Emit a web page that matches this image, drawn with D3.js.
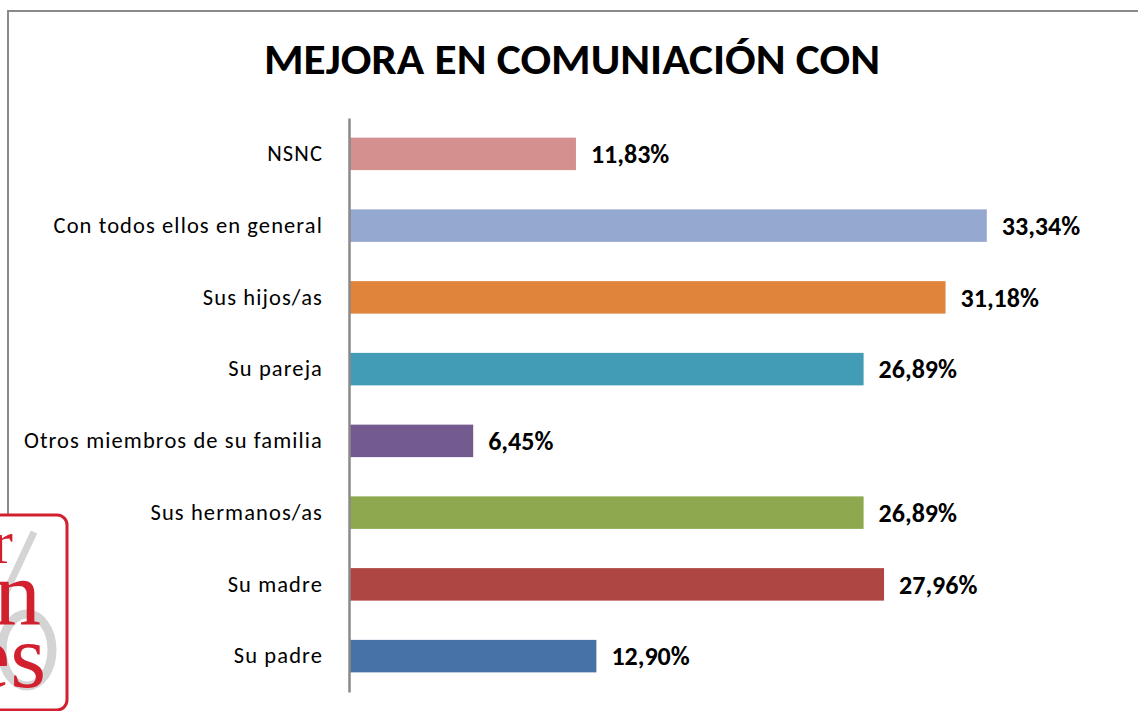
<!DOCTYPE html>
<html>
<head>
<meta charset="utf-8">
<script src="https://cdn.jsdelivr.net/npm/d3@7"></script>
<style>
  html, body { margin: 0; padding: 0; background: #fff; }
  svg { display: block; }
</style>
</head>
<body>
<svg id="chart" width="1138" height="711"></svg>
<script>
// chart data
var title = "MEJORA EN COMUNIACIÓN CON";
var categories = ["NSNC", "Con todos ellos en general", "Sus hijos/as", "Su pareja",
    "Otros miembros de su familia", "Sus hermanos/as", "Su madre", "Su padre"];
var values = [11.83, 33.34, 31.18, 26.89, 6.45, 26.89, 27.96, 12.90];
var barColors = ["#D4908F", "#94A8D0", "#E0843B", "#439CB5", "#735A8F", "#8DA84E", "#AE4644", "#4672A8"];

var FONT = "Carlito, 'Open Sans', 'Noto Sans', sans-serif";
var SERIF = "'Liberation Serif', 'DejaVu Serif', serif";
var GREY = "#8a8a8a";
var RED = "#D3202F";

var svg = d3.select("#chart");

// frame lines (top + left)
svg.append("line")
    .attr("x1", 7).attr("x2", 1138).attr("y1", 11).attr("y2", 11)
    .attr("stroke", GREY).attr("stroke-width", 2);
svg.append("line")
    .attr("x1", 8).attr("x2", 8).attr("y1", 10).attr("y2", 514)
    .attr("stroke", GREY).attr("stroke-width", 2);

// logo in the corner (cut off by the page edge)
var logo = svg.append("g");
logo.append("line")
    .attr("x1", 34).attr("y1", 532).attr("x2", 6).attr("y2", 592)
    .attr("stroke", "#d4d4d4").attr("stroke-width", 7);
logo.append("ellipse")
    .attr("cx", 27).attr("cy", 650).attr("rx", 25).attr("ry", 36)
    .attr("fill", "none").attr("stroke", "#d4d4d4").attr("stroke-width", 9);
logo.append("text").text("r")
    .attr("x", 13).attr("y", 563).attr("text-anchor", "end")
    .style("font-family", SERIF)
    .style("font-size", "62px").attr("fill", RED);
logo.append("text").text("n")
    .attr("x", 41).attr("y", 625).attr("text-anchor", "end")
    .style("font-family", SERIF)
    .style("font-size", "94px").attr("fill", RED);
logo.append("text").text("es")
    .attr("x", 46).attr("y", 687).attr("text-anchor", "end")
    .style("font-family", SERIF)
    .style("font-size", "92px").attr("fill", RED);
logo.append("rect")
    .attr("x", -20).attr("y", 515).attr("width", 87).attr("height", 195)
    .attr("rx", 10).attr("ry", 10)
    .attr("fill", "none").attr("stroke", RED).attr("stroke-width", 3);

// title
svg.append("text")
    .text(title)
    .attr("x", 572).attr("y", 74)
    .attr("text-anchor", "middle")
    .attr("textLength", 616)
    .attr("lengthAdjust", "spacingAndGlyphs")
    .style("font-family", FONT)
    .style("font-weight", "bold")
    .style("font-size", "43px")
    .attr("fill", "#000");

// scales
var x = d3.scaleLinear().domain([0, 40]).range([350, 1114]);
var y = d3.scaleBand()
    .domain(categories)
    .range([118, 692])
    .paddingInner(0.547)
    .paddingOuter(0.2735);

// bars
svg.selectAll(".bar")
    .data(categories)
    .enter().append("rect")
    .attr("class", "bar")
    .attr("x", x(0))
    .attr("y", (d) => y(d))
    .attr("width", (d, i) => x(values[i]) - x(0))
    .attr("height", y.bandwidth())
    .attr("fill", (d, i) => barColors[i]);

// value labels
svg.selectAll(".val")
    .data(categories)
    .enter().append("text")
    .attr("class", "val")
    .text((d, i) => values[i].toFixed(2).replace(".", ",") + "%")
    .attr("x", (d, i) => x(values[i]) + 15)
    .attr("y", (d) => y(d) + y.bandwidth() / 2)
    .attr("dy", "0.36em")
    .style("font-family", FONT)
    .style("font-weight", "bold")
    .style("font-size", "26px")
    .attr("fill", "#000");

// category axis
var yAxis = svg.append("g")
    .attr("transform", "translate(" + 349 + ",0)")
    .call(d3.axisLeft(y).tickSize(0).tickPadding(26));

yAxis.select(".domain")
    .attr("stroke", GREY)
    .attr("stroke-width", 2.5);

yAxis.selectAll("text")
    .style("font-family", FONT)
    .style("font-size", "22.5px")
    .style("letter-spacing", "1.1px")
    .attr("fill", "#000");
</script>
</body>
</html>
